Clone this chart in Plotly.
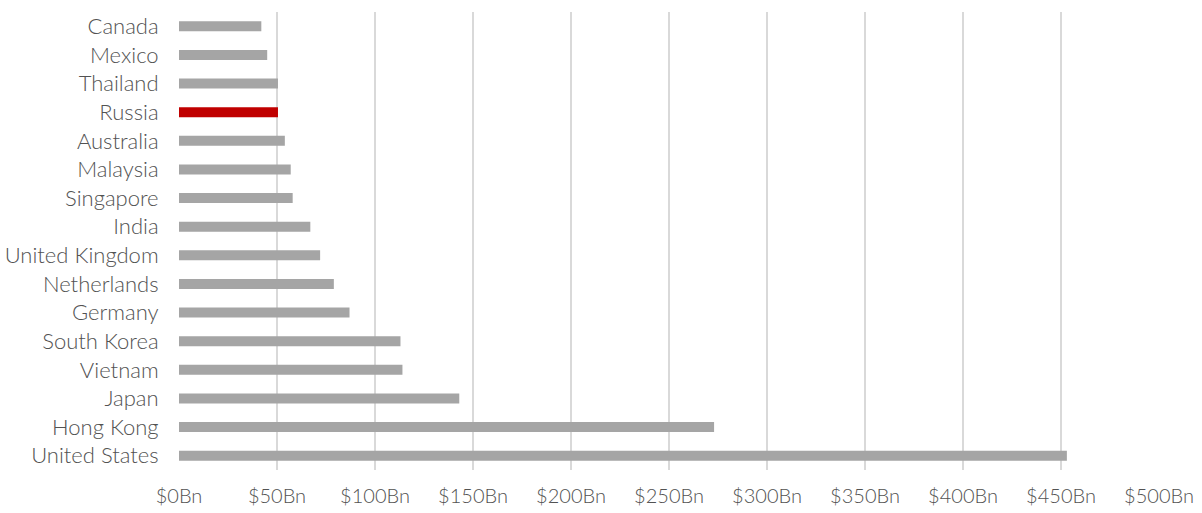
import plotly.graph_objects as go

# Countries listed bottom to top (first entry is drawn at the bottom)
countries = [
    "United States", "Hong Kong", "Japan", "Vietnam", "South Korea",
    "Germany", "Netherlands", "United Kingdom", "India", "Singapore",
    "Malaysia", "Australia", "Russia", "Thailand", "Mexico", "Canada",
]

# Values in billions of US dollars
values_bn = [453, 273, 143, 114, 113, 87, 79, 72, 67, 58, 57, 54, 50.5, 50.5, 45, 42]

# Axis ticks
tick_vals = [0, 50, 100, 150, 200, 250, 300, 350, 400, 450, 500]
tick_text = ["$" + str(v) + "Bn" for v in tick_vals]

# Highlight Russia in red, everything else grey
bar_colors = ["#C00000" if c == "Russia" else "#A5A5A5" for c in countries]

fig = go.Figure(
    go.Bar(
        x=values_bn,
        y=countries,
        orientation="h",
        marker=dict(color=bar_colors, line=dict(width=0)),
        hovertemplate="%{y}: $%{x}Bn<extra></extra>",
    )
)

fig.update_layout(
    width=1202,
    height=513,
    margin=dict(l=179, r=43, t=12, b=43),
    plot_bgcolor="white",
    paper_bgcolor="white",
    bargap=0.65,
    showlegend=False,
    font=dict(family="Lato", size=22, color="#525252", weight=300),
)

fig.update_xaxes(
    range=[0, 500],
    tickvals=tick_vals,
    ticktext=tick_text,
    showgrid=True,
    gridcolor="#D9D9D9",
    gridwidth=2,
    zeroline=False,
    showline=False,
    ticks="outside",
    ticklen=8,
    tickcolor="rgba(0,0,0,0)",
    tickfont=dict(size=20),
    automargin=False,
    fixedrange=True,
)

fig.update_yaxes(
    showgrid=False,
    zeroline=False,
    showline=False,
    ticks="outside",
    ticklen=15,
    tickcolor="rgba(0,0,0,0)",
    automargin=False,
    fixedrange=True,
)

# Remove the default page margin so the chart sits at the window corner
fig.write_html(
    "out.html",
    config={"displayModeBar": False},
    post_script="document.body.style.margin='0';",
)
